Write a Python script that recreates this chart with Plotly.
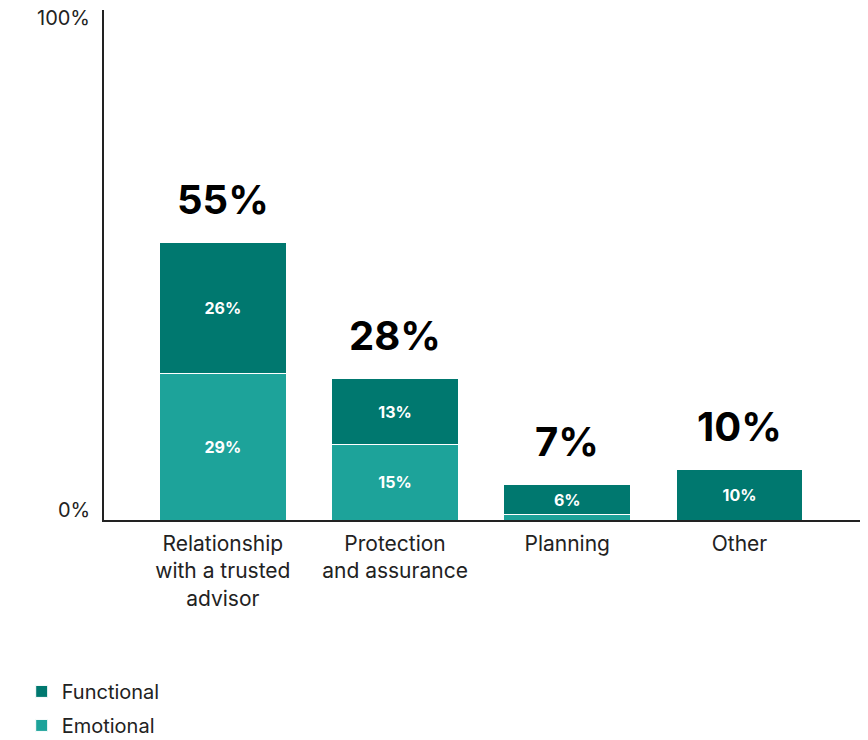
import plotly.graph_objects as go

categories = ["Relationship<br>with a trusted<br>advisor", "Protection<br>and assurance", "Planning", "Other"]
emotional = [29, 15, 1, 0]
functional = [26, 13, 6, 10]
totals = [55, 28, 7, 10]
emotional_labels = ["29%", "15%", "", ""]
functional_labels = ["26%", "13%", "6%", "10%"]

FONT = "Inter, Lato, sans-serif"
C_FUNC = "#00786F"
C_EMO = "#1DA39A"

fig = go.Figure()
fig.add_trace(go.Bar(
    x=categories, y=emotional, name="Emotional", marker=dict(color=C_EMO, line=dict(color="white", width=1)),
    text=emotional_labels, textposition="inside", insidetextanchor="middle",
    textfont=dict(color="white", size=16, family=FONT, weight="bold"),
    width=0.735, hoverinfo="skip", legendrank=2, legendgroup="emo"))
fig.add_trace(go.Bar(
    x=categories, y=functional, name="Functional", marker=dict(color=C_FUNC, line=dict(color="white", width=1)),
    text=functional_labels, textposition="inside", insidetextanchor="middle",
    textfont=dict(color="white", size=16, family=FONT, weight="bold"),
    width=0.735, hoverinfo="skip", legendrank=1, legendgroup="func"))

for c, t in zip(categories, totals):
    fig.add_annotation(x=c, y=t, text=f"<b>{t}%</b>", showarrow=False, yanchor="bottom", yshift=17,
                       font=dict(size=40, color="black", family=FONT))

for v in [0, 100]:
    fig.add_annotation(x=0, xref="paper", y=v, yref="y", text=f"{v}%", showarrow=False,
                       xanchor="right", xshift=-12, yshift=(10 if v == 0 else -2),
                       font=dict(size=20, color="#222", family=FONT))

fig.update_layout(
    barmode="stack",
    width=868, height=740,
    margin=dict(l=104, r=8, t=10, b=220, autoexpand=False),
    plot_bgcolor="white", paper_bgcolor="white",
    font=dict(family=FONT, size=21, color="#222"),
    uniformtext=dict(mode="show", minsize=8),
    xaxis=dict(range=[-0.69, 3.7], showline=True, linecolor="#222", linewidth=1.5, ticks="",
               showgrid=False, tickfont=dict(size=21, color="#222", family=FONT), fixedrange=True,
               automargin=False, ticklabelstandoff=4),
    yaxis=dict(range=[0, 101.2], showline=True, linecolor="#222", linewidth=1.5, showgrid=False,
               showticklabels=False, ticks="", zeroline=False, fixedrange=True, automargin=False),
    legend=dict(xref="container", yref="container", x=0.025, y=0.092, xanchor="left", yanchor="top",
                traceorder="grouped", tracegroupgap=5,
                font=dict(size=20, color="#222", family=FONT), itemwidth=30),
    showlegend=True,
)

fig.write_html("out.html")
